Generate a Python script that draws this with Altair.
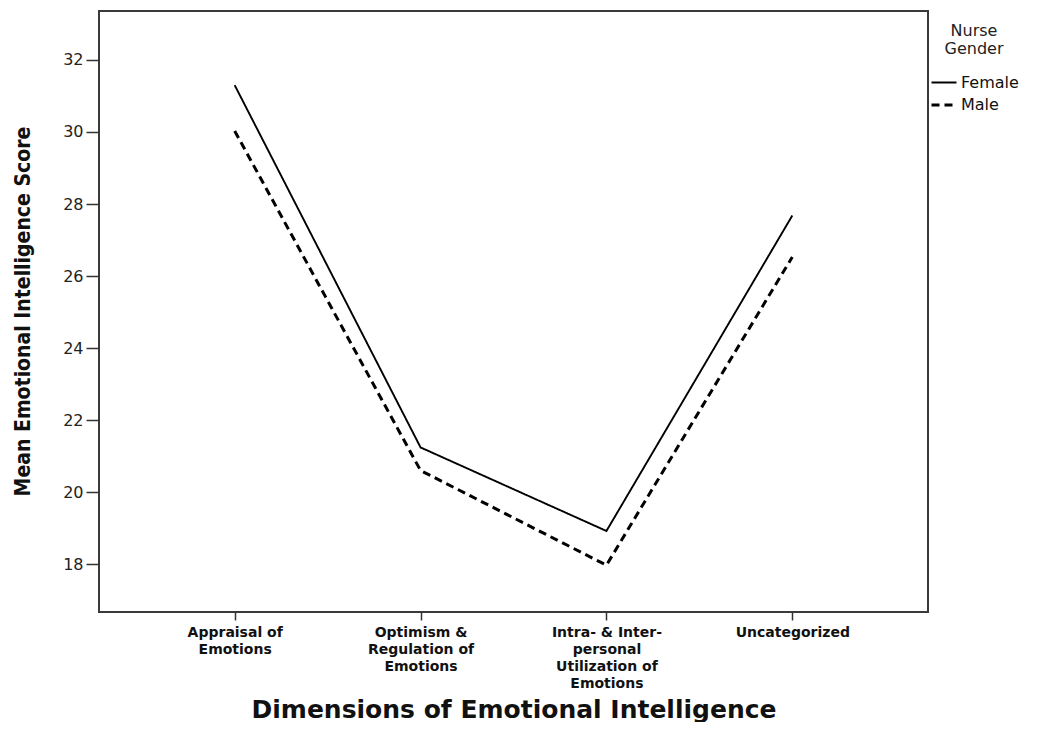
import altair as alt
import pandas as pd

categories = [
    "Appraisal of|Emotions",
    "Optimism &|Regulation of|Emotions",
    "Intra- & Inter-|personal|Utilization of|Emotions",
    "Uncategorized",
]
female = [31.30, 21.24, 18.92, 27.68]
male = [30.03, 20.60, 17.97, 26.53]
genders = ["Female", "Male"]
y_ticks = [18, 20, 22, 24, 26, 28, 30, 32]

rows = []
for g, vals in zip(genders, [female, male]):
    for i, (c, v) in enumerate(zip(categories, vals)):
        rows.append({"dim": c, "order": i, "gender": g, "score": v})
df = pd.DataFrame(rows)

chart = alt.Chart(df).mark_line(color="black").encode(
    x=alt.X(
        "dim:N",
        sort=categories,
        scale=alt.Scale(type="point", padding=0.73),
        axis=alt.Axis(
            title="Dimensions of Emotional Intelligence",
            labelExpr="split(datum.label, '|')",
            labelAngle=0,
            labelFont="DejaVu Sans",
            labelFontWeight="bold",
            labelFontSize=14,
            labelLineHeight=17,
            labelColor="#111",
            labelBaseline="top",
            labelPadding=5,
            labelLimit=300,
            tickSize=8,
            tickColor="#333",
            tickWidth=1.5,
            domain=False,
            grid=False,
            titleFont="DejaVu Sans",
            titleFontWeight="bold",
            titleFontSize=25,
            titleColor="#111",
            titleBaseline="middle",
            titleY=97,
        ),
    ),
    y=alt.Y(
        "score:Q",
        scale=alt.Scale(domain=[16.67, 33.36], nice=False, zero=False),
        axis=alt.Axis(
            title="Mean Emotional Intelligence Score",
            values=y_ticks,
            labelFont="DejaVu Sans",
            labelFontSize=16,
            labelColor="#222",
            labelPadding=3,
            tickSize=13,
            tickColor="#333",
            tickWidth=1.5,
            domain=False,
            grid=False,
            titleFont="Liberation Sans Narrow, DejaVu Sans Condensed, Arial Narrow, sans-serif",
            titleFontWeight="bold",
            titleFontSize=21,
            titleColor="#111",
            titleBaseline="middle",
            titleX=-76,
            titleY=300,
        ),
    ),
    strokeDash=alt.StrokeDash(
        "gender:N",
        scale=alt.Scale(domain=genders, range=[[1, 0], [8, 5]]),
        legend=alt.Legend(
            title=["Nurse", "Gender"],
            orient="none",
            legendX=831,
            legendY=12,
            padding=0,
            symbolType="stroke",
            symbolSize=625,
            symbolStrokeColor="black",
            symbolStrokeWidth=2.2,
            labelFont="DejaVu Sans",
            labelFontSize=16,
            labelColor="#111",
            labelOffset=3,
            rowPadding=-4,
            titleFont="DejaVu Sans",
            titleFontSize=16,
            titleFontWeight="normal",
            titleColor="#222",
            titleLineHeight=18,
            titleAnchor="middle",
            titleAlign="center",
            titlePadding=12,
        ),
    ),
    strokeWidth=alt.StrokeWidth(
        "gender:N",
        scale=alt.Scale(domain=genders, range=[1.9, 3.0]),
        legend=None,
    ),
    order="order:Q",
).properties(
    width=829,
    height=601,
    background="white",
    autosize=alt.AutoSizeParams(type="none"),
    padding={"left": 91, "top": 3, "right": 100, "bottom": 110},
).configure_view(
    stroke="#3a3a3a", strokeWidth=2
)

chart.save("out.html", embed_options={"renderer": "svg", "actions": False})
